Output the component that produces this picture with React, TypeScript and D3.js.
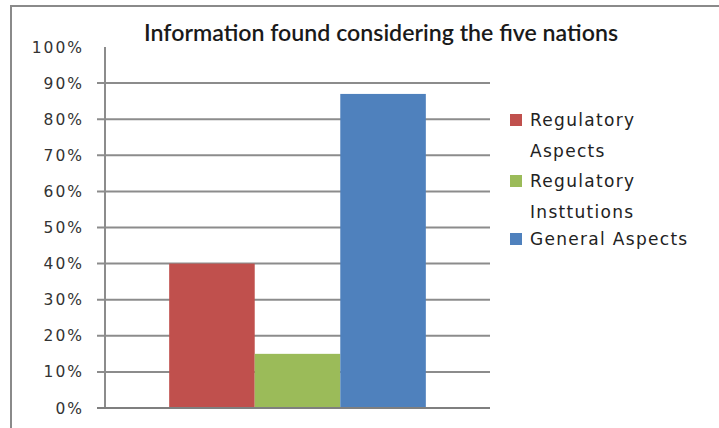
import { useEffect, useRef } from "react";
import * as d3 from "d3";

// chart data
const categories = ["Information"];
const seriesNames = ["Regulatory Aspects", "Regulatory Insttutions", "General Aspects"];
const seriesValues = [0.4, 0.15, 0.87];
const seriesColours = ["#C0504D", "#9BBB59", "#4F81BD"];
const legendLines = [["Regulatory", "Aspects"], ["Regulatory", "Insttutions"], ["General Aspects"]];
const yTicks = [0, 0.1, 0.2, 0.3, 0.4, 0.5, 0.6, 0.7, 0.8, 0.9, 1];

const W = 719;
const H = 428;
const margin = { top: 47, right: 229, bottom: 20, left: 105 };

const App = () => {
  const ref = useRef<SVGSVGElement>(null);

  useEffect(() => {
    const svg = d3.select(ref.current);
    svg.selectAll("*").remove();

    const x0 = d3.scaleBand().domain(categories).range([margin.left, W - margin.right]).paddingInner(0).paddingOuter(0.25);
    const x1 = d3.scaleBand().domain(seriesNames).range([0, x0.bandwidth()]).padding(0);
    const y = d3.scaleLinear().domain([0, 1]).range([H - margin.bottom, margin.top]);

    // outer frame (top and left edges only)
    svg.append("path")
      .attr("d", `M11,${H} L11,6 L${W},6`)
      .attr("fill", "none")
      .attr("stroke", "#8a8a8a")
      .attr("stroke-width", 2);

    // title
    svg.append("text")
      .attr("x", 144)
      .attr("y", 41)
      .attr("textLength", 474)
      .attr("lengthAdjust", "spacingAndGlyphs")
      .attr("font-family", "Lato, 'Open Sans', sans-serif")
      .attr("font-size", 22)
      .attr("font-weight", 600)
      .attr("fill", "#1a1a1a")
      .text("Information found considering the five nations");

    // gridlines (not at top)
    svg.append("g")
      .selectAll("line")
      .data(yTicks.filter((t) => t > 0 && t < 1))
      .join("line")
      .attr("x1", margin.left - 8)
      .attr("x2", W - margin.right)
      .attr("y1", (d) => y(d))
      .attr("y2", (d) => y(d))
      .attr("stroke", "#8c8c8c")
      .attr("stroke-width", 2);

    // bars
    svg.append("g")
      .selectAll("rect")
      .data(seriesValues)
      .join("rect")
      .attr("x", (_d, i) => (x0(categories[0]) ?? 0) + (x1(seriesNames[i]) ?? 0))
      .attr("width", x1.bandwidth())
      .attr("y", (d) => y(d))
      .attr("height", (d) => y(0) - y(d))
      .attr("fill", (_d, i) => seriesColours[i]);

    // y axis line + bottom axis
    svg.append("line")
      .attr("x1", margin.left).attr("x2", margin.left)
      .attr("y1", y(1)).attr("y2", y(0))
      .attr("stroke", "#8c8c8c").attr("stroke-width", 2);
    svg.append("line")
      .attr("x1", margin.left - 8).attr("x2", W - margin.right)
      .attr("y1", y(0)).attr("y2", y(0))
      .attr("stroke", "#7f7f7f").attr("stroke-width", 2);

    // tick labels
    svg.append("g")
      .selectAll("text")
      .data(yTicks)
      .join("text")
      .attr("x", 84)
      .attr("y", (d) => y(d))
      .attr("dy", "0.36em")
      .attr("text-anchor", "end")
      .attr("font-family", "'DejaVu Sans', Verdana, sans-serif")
      .attr("font-size", 15.5)
      .attr("letter-spacing", 2)
      .attr("fill", "#333")
      .text((d) => d3.format(".0%")(d));

    // legend
    const leg = svg.append("g");
    const legTop = [114, 175, 233];
    seriesNames.forEach((_name, i) => {
      leg.append("rect")
        .attr("x", 510)
        .attr("y", legTop[i])
        .attr("width", 12)
        .attr("height", 12)
        .attr("fill", seriesColours[i]);
      legendLines[i].forEach((line, j) => {
        leg.append("text")
          .attr("x", 530)
          .attr("y", legTop[i] + 6 + j * 31)
          .attr("dy", "0.36em")
          .attr("font-family", "'DejaVu Sans', Verdana, sans-serif")
          .attr("font-size", 17)
          .attr("letter-spacing", 1.3)
          .attr("fill", "#222")
          .text(line);
      });
    });
  }, []);

  return (
    <svg
      ref={ref}
      width={W}
      height={H}
      viewBox={`0 0 ${W} ${H}`}
      style={{ position: "absolute", left: 0, top: 0, background: "#fff" }}
    />
  );
};

export default App;
